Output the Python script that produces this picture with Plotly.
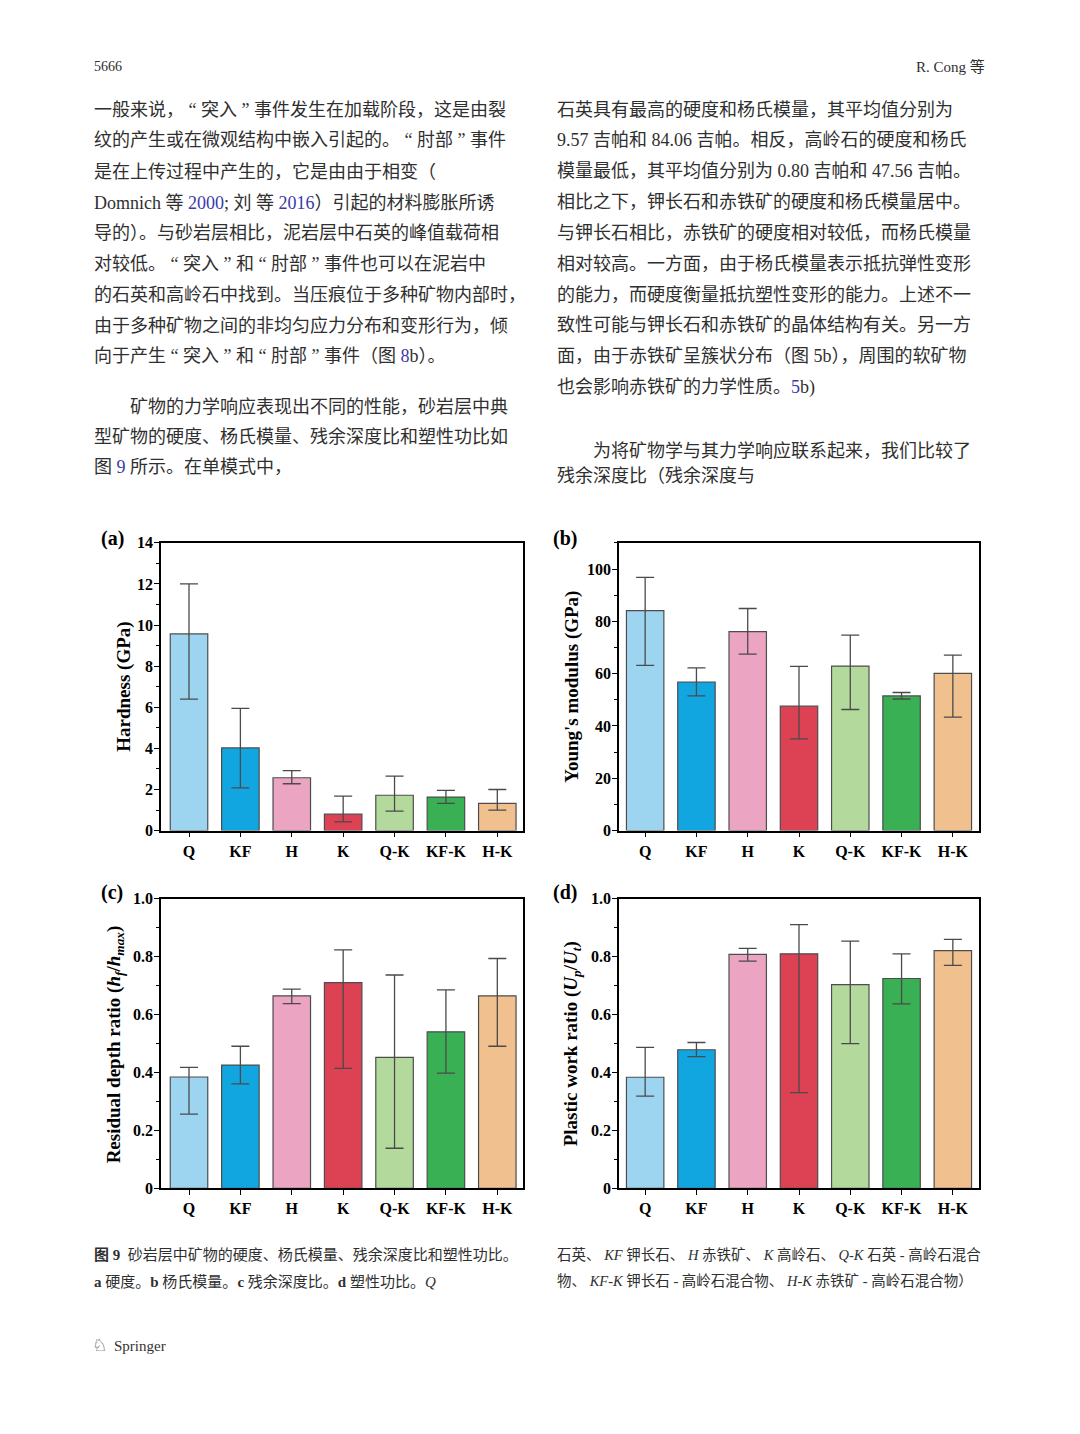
import plotly.graph_objects as go

# ---------------- data ----------------
categories = ["Q", "KF", "H", "K", "Q-K", "KF-K", "H-K"]
bar_colors = ["#9dd4f0", "#12a6e0", "#eba4c1", "#dc4253", "#b4d99c", "#39b054", "#f0c08e"]

hardness = [9.57, 4.02, 2.57, 0.80, 1.72, 1.63, 1.32]
hardness_hi = [12.0, 5.95, 2.92, 1.68, 2.65, 1.96, 2.00]
hardness_lo = [6.40, 2.08, 2.28, 0.42, 0.95, 1.32, 1.00]

modulus = [84.06, 56.8, 76.1, 47.56, 62.9, 51.5, 60.1]
modulus_hi = [96.8, 62.2, 84.9, 62.8, 74.7, 52.8, 67.1]
modulus_lo = [63.2, 51.5, 67.5, 35.1, 46.3, 50.3, 43.4]

depth_ratio = [0.384, 0.425, 0.664, 0.710, 0.452, 0.540, 0.664]
depth_hi = [0.417, 0.490, 0.687, 0.823, 0.736, 0.685, 0.793]
depth_lo = [0.256, 0.360, 0.637, 0.414, 0.138, 0.397, 0.490]

work_ratio = [0.383, 0.478, 0.807, 0.809, 0.703, 0.724, 0.820]
work_hi = [0.486, 0.503, 0.828, 0.910, 0.853, 0.809, 0.859]
work_lo = [0.318, 0.454, 0.784, 0.330, 0.499, 0.636, 0.769]

ticks_a = [0, 2, 4, 6, 8, 10, 12, 14]
ticks_b = [0, 20, 40, 60, 80, 100]
ticks_cd = [0, 0.2, 0.4, 0.6, 0.8, 1.0]
ticktext_cd = ["0", "0.2", "0.4", "0.6", "0.8", "1.0"]

panel_titles = [
    "Hardness (GPa)",
    "Young's modulus (GPa)",
    "Residual depth ratio (<i>h<sub>f</sub></i>/<i>h<sub>max</sub></i>)",
    "Plastic work ratio (<i>U<sub>p</sub></i>/<i>U<sub>t</sub></i>)",
]
panel_labels = ["(a)", "(b)", "(c)", "(d)"]

LINK = "#3a3aa8"
header_left = "5666"
header_right = "R. Cong 等"
left_lines = [
    "一般来说， “ 突入 ” 事件发生在加载阶段，这是由裂",
    "纹的产生或在微观结构中嵌入引起的。 “ 肘部 ” 事件",
    "是在上传过程中产生的，它是由由于相变（",
    f"Domnich 等 <span style='color:{LINK}'>2000</span>; 刘 等 <span style='color:{LINK}'>2016</span>）引起的材料膨胀所诱",
    "导的）。与砂岩层相比，泥岩层中石英的峰值载荷相",
    "对较低。 “ 突入 ” 和 “ 肘部 ” 事件也可以在泥岩中",
    "的石英和高岭石中找到。当压痕位于多种矿物内部时，",
    "由于多种矿物之间的非均匀应力分布和变形行为，倾",
    f"向于产生 “ 突入 ” 和 “ 肘部 ” 事件（图 <span style='color:{LINK}'>8</span>b）。",
]
left_lines2 = [
    "　　矿物的力学响应表现出不同的性能，砂岩层中典",
    "型矿物的硬度、杨氏模量、残余深度比和塑性功比如",
    f"图 <span style='color:{LINK}'>9</span> 所示。在单模式中，",
]
right_lines = [
    "石英具有最高的硬度和杨氏模量，其平均值分别为",
    "9.57 吉帕和 84.06 吉帕。相反，高岭石的硬度和杨氏",
    "模量最低，其平均值分别为 0.80 吉帕和 47.56 吉帕。",
    "相比之下，钾长石和赤铁矿的硬度和杨氏模量居中。",
    "与钾长石相比，赤铁矿的硬度相对较低，而杨氏模量",
    "相对较高。一方面，由于杨氏模量表示抵抗弹性变形",
    "的能力，而硬度衡量抵抗塑性变形的能力。上述不一",
    "致性可能与钾长石和赤铁矿的晶体结构有关。另一方",
    "面，由于赤铁矿呈簇状分布（图 5b），周围的软矿物",
    f"也会影响赤铁矿的力学性质。<span style='color:{LINK}'>5</span>b)",
]
right_lines2 = [
    "　　为将矿物学与其力学响应联系起来，我们比较了",
    "残余深度比（残余深度与",
]
caption_left = [
    "<b>图 9</b>  砂岩层中矿物的硬度、杨氏模量、残余深度比和塑性功比。",
    "<b>a</b> 硬度。<b>b</b> 杨氏模量。<b>c</b> 残余深度比。<b>d</b> 塑性功比。<i>Q</i>",
]
caption_right = [
    "石英、 <i>KF</i> 钾长石、 <i>H</i> 赤铁矿、 <i>K</i> 高岭石、 <i>Q-K</i> 石英 - 高岭石混合",
    "物、 <i>KF-K</i> 钾长石 - 高岭石混合物、 <i>H-K</i> 赤铁矿 - 高岭石混合物）",
]
footer = "Springer"

# ---------------- geometry / styles ----------------
OFF = 8                      # default page margin of the html body
W, H = 1080 - 2 * OFF, 1434 - 2 * OFF
SERIF = "Liberation Serif, Times New Roman, serif"
BODY = "Liberation Serif, Noto Sans CJK SC, serif"
TXT = "#2f2f2f"
Y_SHIFT, Y_SCALE = 15.6, 0.989   # measured placement of the page in the photo


def px_x(x):
    return (x - OFF) / W


def px_y(y):
    return 1 - ((y - Y_SHIFT) / Y_SCALE) / H


fig = go.Figure()

series = [
    (hardness, hardness_hi, hardness_lo),
    (modulus, modulus_hi, modulus_lo),
    (depth_ratio, depth_hi, depth_lo),
    (work_ratio, work_hi, work_lo),
]
axis_ids = ["", "2", "3", "4"]
for (vals, hi, lo), aid in zip(series, axis_ids):
    fig.add_trace(go.Bar(
        x=categories, y=vals,
        xaxis="x" + aid, yaxis="y" + aid,
        width=0.73,
        marker=dict(color=bar_colors, line=dict(color="#4d4d4d", width=1.2)),
        error_y=dict(type="data", symmetric=False,
                     array=[h - v for h, v in zip(hi, vals)],
                     arrayminus=[v - l for v, l in zip(vals, lo)],
                     color="#4a4a4a", thickness=1.3, width=9),
        showlegend=False,
    ))

# plot area boxes in page pixels (left, right, top, bottom)
boxes = [
    (161, 523, 543, 831),
    (619, 979, 543, 831),
    (161, 523, 899, 1189),
    (619, 979, 899, 1189),
]
yranges = [[0, 14], [0, 110], [0, 1.0], [0, 1.0]]
ytickvals = [ticks_a, ticks_b, ticks_cd, ticks_cd]
yticktext = [[str(t) for t in ticks_a], [str(t) for t in ticks_b], ticktext_cd, ticktext_cd]
minor_dt = [1, 10, 0.1, 0.1]
xranges = [[-0.545, 6.5], [-0.51, 6.51], [-0.545, 6.5], [-0.51, 6.51]]
title_pos = [(124, 687), (572, 687), (115, 1045), (572, 1045)]

layout = dict(
    width=W, height=H,
    margin=dict(l=0, r=0, t=0, b=0),
    paper_bgcolor="white", plot_bgcolor="white",
)
for i, aid in enumerate(axis_ids):
    l, r, t, b = boxes[i]
    layout["xaxis" + aid] = dict(
        domain=[px_x(l), px_x(r)], anchor="y" + aid, type="category",
        range=xranges[i],
        showline=True, mirror=True, linecolor="black", linewidth=1.6,
        ticks="outside", ticklen=5, tickwidth=1.3, tickcolor="black",
        showgrid=False, zeroline=False,
        tickfont=dict(family=SERIF, size=16, color="black", weight="bold"),
    )
    layout["yaxis" + aid] = dict(
        domain=[px_y(b), px_y(t)], anchor="x" + aid,
        range=yranges[i],
        tickmode="array", tickvals=ytickvals[i], ticktext=yticktext[i],
        showline=True, mirror=True, linecolor="black", linewidth=1.6,
        ticks="outside", ticklen=5, tickwidth=1.3, tickcolor="black",
        ticklabelstandoff=-2,
        minor=dict(ticks="outside", ticklen=3, tickwidth=1, tickcolor="black",
                   dtick=minor_dt[i], tick0=0, showgrid=False),
        showgrid=False, zeroline=False,
        tickfont=dict(family=SERIF, size=16, color="black", weight="bold"),
    )

annotations = []


def txt(x, y, s, size=18, color=TXT, xanchor="left", family=BODY, weight="normal", angle=0):
    annotations.append(dict(
        x=px_x(x), y=px_y(y), xref="paper", yref="paper", text=s,
        showarrow=False, xanchor=xanchor, yanchor="middle", textangle=angle,
        font=dict(family=family, size=size, color=color, weight=weight),
    ))


# y-axis titles
for (x, y), s in zip(title_pos, panel_titles):
    txt(x, y, s, size=19, color="black", xanchor="center", family=SERIF, weight="bold", angle=-90)

# panel labels
label_pos = [(112, 539), (565, 539), (112, 893), (565, 893)]
for (x, y), lab in zip(label_pos, panel_labels):
    txt(x, y, lab, size=20, color="black", xanchor="center", family=SERIF, weight="bold")

# header
txt(92, 66, header_left, size=14, family=SERIF)
txt(987, 66, header_right, size=15, xanchor="right")

# left column text
left_y = [110, 140, 172, 203, 233, 264, 295, 326, 356]
for y, s in zip(left_y, left_lines):
    txt(92, y, s)
left_y2 = [407, 437, 467]
for y, s in zip(left_y2, left_lines2):
    txt(92, y, s)

# right column text
right_y = [110, 140, 171, 202, 233, 264, 295, 325, 356, 387]
for y, s in zip(right_y, right_lines):
    txt(555, y, s)
right_y2 = [451, 476]
for y, s in zip(right_y2, right_lines2):
    txt(555, y, s)

# caption
for y, s in zip([1255, 1282], caption_left):
    txt(92, y, s, size=15)
for y, s in zip([1255, 1282], caption_right):
    txt(555, y, s, size=14.5)

# footer
txt(90, 1346, "♘", size=17, family="DejaVu Sans", color="#333")
txt(112, 1347, footer, size=15, family=SERIF, color="#333")

layout["annotations"] = annotations
fig.update_layout(**layout)
fig.write_html("out.html")
